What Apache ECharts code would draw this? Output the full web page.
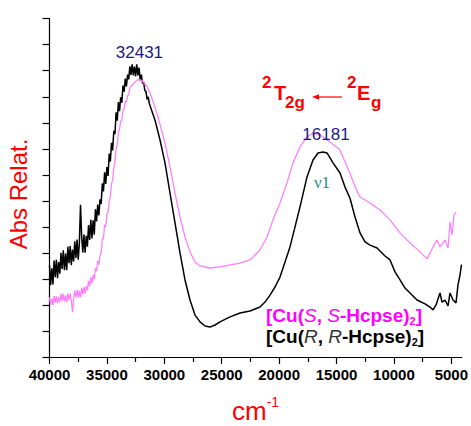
<!DOCTYPE html>
<html><head><meta charset="utf-8">
<script src="https://cdn.jsdelivr.net/npm/echarts@6/dist/echarts.min.js"></script>
<style>html,body{margin:0;padding:0;background:#fff}#c{width:471px;height:426px}</style>
</head><body><div id="c"></div>
<script>
// ---- data ----
const xTicks = [40000, 35000, 30000, 25000, 20000, 15000, 10000, 5000];
const xMinorTicks = [37500, 32500, 27500, 22500, 17500, 12500, 7500];

// [Cu(R,R-Hcpse)2]  (black)
const rrWavenumber = [
  40000,39900,39800,39700,39600,39500,39400,39300,39200,39100,39000,38900,38800,38700,38600,38500,38400,38300,38200,38100,
  38000,37900,37800,37700,37600,37500,37400,37300,37200,37100,37000,36900,36800,36700,36600,36500,36400,36300,36200,36100,
  36000,35900,35800,35700,35600,35500,35400,35300,35200,35100,35000,34900,34800,34700,34600,34500,34400,34300,34200,34100,
  34000,33900,33800,33700,33600,33500,33400,33300,33200,33100,33000,32900,32800,32700,32600,32500,32400,32300,32200,32100,
  32000,31900,31800,31700,31600,31500,31400,31300,
  30811,30375,29940,29504,29069,28633,28198,27762,27327,26891,26455,26020,25585,25150,24279,23407,22537,21666,21230,20795,20359,19924,
  19488,19053,18617,18182,17572,17050,16614,16179,15830,15308,14698,14263,13827,13392,12956,12521,12085,11475,10779,10343,9908,9472,
  9037,8601,7991,7295,6860,6598,6337,5989,5815,5553,5292,5118,4857,4596,4422,4248,4120
];
const rrAbs = [
  3.52,2.76,3.41,2.79,3.71,3.07,3.74,3.03,3.65,3.20,4.00,3.38,4.10,3.34,3.98,3.34,4.24,3.60,4.26,3.53,
  4.13,3.67,4.45,3.81,4.51,3.74,4.36,5.85,4.64,4.02,4.71,4.01,4.66,4.24,5.07,4.50,5.27,4.56,5.25,4.70,
  5.68,5.21,5.86,5.44,6.06,5.88,6.67,6.36,7.10,6.65,7.30,6.96,7.82,7.51,8.23,7.94,8.69,8.56,9.40,9.08,
  9.80,9.45,9.98,9.77,10.43,10.20,10.70,10.40,10.85,10.67,11.17,10.84,11.25,10.82,11.16,10.78,11.25,10.82,11.12,10.62,
  10.85,10.52,10.57,10.24,10.21,9.90,10.00,9.73,
  9.10,8.34,7.46,6.30,5.15,4.00,2.96,2.19,1.61,1.35,1.19,1.15,1.23,1.35,1.54,1.69,1.77,1.92,2.11,2.38,2.69,3.07,
  3.65,4.23,5.00,5.77,6.92,7.57,7.84,7.88,7.84,7.46,7.07,6.53,6.10,5.38,4.77,4.42,4.30,4.19,3.88,3.73,3.27,2.96,
  2.65,2.46,2.19,2.04,1.92,1.81,2.00,2.46,2.11,2.19,1.96,2.46,2.19,2.08,2.77,3.15,3.55
];

// [Cu(S,S-Hcpse)2]  (magenta)
const ssWavenumber = [
  40000,39900,39800,39700,39600,39500,39400,39300,39200,39100,39000,38900,38800,38700,38600,38500,38400,38300,38200,38100,
  38000,37900,37800,37700,37600,37500,37400,37300,37200,37100,37000,36900,36800,36700,36600,36500,36400,36300,36200,36100,
  36000,35900,35800,35700,35600,35500,35400,35300,35200,35100,35000,34900,34800,34700,34600,34500,34400,34300,34200,34100,
  34000,33900,33800,33700,33600,33500,33400,33300,33200,33100,33000,
  32800,32550,32300,32100,31900,31700,31450,31250,30811,
  30375,29940,29504,29069,28633,28198,27762,27327,26891,26020,25150,24279,23407,22537,21666,21056,20533,19924,19314,18792,18182,17572,
  17050,16440,15569,14698,13827,13392,12956,12085,11214,10343,9472,8601,7730,7121,6598,6250,5989,5553,5292,5118,4944,4770,4596
];
const ssAbs = [
  2.29,1.99,2.24,1.99,2.35,2.09,2.35,2.06,2.30,2.11,2.43,2.17,2.44,2.13,2.36,2.10,2.45,2.19,2.45,2.16,
  1.72,2.22,2.55,2.29,2.58,2.28,2.54,2.29,2.66,2.41,2.69,2.44,2.72,2.57,2.93,2.71,3.07,2.84,3.16,2.98,
  3.41,3.29,3.69,3.54,3.91,3.97,4.55,4.54,5.08,5.01,5.49,5.55,5.99,6.17,6.65,6.81,7.27,7.50,7.99,8.15,
  8.62,8.76,9.07,9.11,9.48,9.52,9.84,9.79,10.05,10.06,10.36,
  10.45,10.57,10.66,10.65,10.60,10.50,10.35,10.15,9.60,
  8.95,8.22,7.30,6.30,5.38,4.61,4.04,3.65,3.50,3.42,3.46,3.54,3.61,3.73,4.11,4.61,5.27,5.92,6.69,7.46,8.07,8.46,
  8.61,8.53,8.26,7.95,7.05,6.55,6.15,5.92,5.65,5.27,4.77,4.38,4.04,3.77,4.23,4.50,4.23,4.50,4.19,5.19,4.69,5.46,5.57
];

const peakWavenumbers = [32431, 16181];
const peakHeights = [11.03, 7.88];   // R,R curve maxima
const bandLabel = 'ν1';

// ---- chart ----
const FAM = '"Liberation Sans", Arial, sans-serif';
const chart = echarts.init(document.getElementById('c'), null, {renderer: 'svg'});
const pairs = (xs, ys) => xs.map((x, i) => [x, ys[i]]);

const axisCommon = {
  type: 'value', inverse: true, min: 4100, max: 40000,
  splitLine: {show: false}
};

chart.setOption({
  animation: false,
  backgroundColor: '#fff',
  grid: {left: 49.5, right: 9.3, top: 18.7, bottom: 69, containLabel: false, outerBoundsMode: 'none'},
  xAxis: [
    Object.assign({}, axisCommon, {
      axisLine: {show: true, lineStyle: {color: '#000', width: 1.2}},
      axisTick: {show: true, inside: false, length: 7, customValues: xTicks, lineStyle: {color: '#000', width: 1.2}},
      axisLabel: {show: true, customValues: xTicks, margin: 10, color: '#000', fontSize: 15, fontWeight: 'bold', fontFamily: FAM,
                  formatter: v => String(v)}
    }),
    Object.assign({}, axisCommon, {
      position: 'bottom',
      axisLine: {show: false},
      axisTick: {show: true, inside: false, length: 5, customValues: xMinorTicks, lineStyle: {color: '#000', width: 1.2}},
      axisLabel: {show: false}
    })
  ],
  yAxis: {
    type: 'value', min: 0, max: 13, interval: 1,
    axisLine: {show: true, lineStyle: {color: '#000', width: 1.2}},
    axisTick: {show: true, inside: false, length: 7, lineStyle: {color: '#000', width: 1.2}},
    axisLabel: {show: false},
    splitLine: {show: false}
  },
  series: [
    {name: '[Cu(R,R-Hcpse)2]', type: 'line', xAxisIndex: 0, data: pairs(rrWavenumber, rrAbs),
     showSymbol: false, smooth: false, lineStyle: {color: '#000', width: 1.5}, itemStyle: {color: '#000'}, z: 2},
    {name: '[Cu(S,S-Hcpse)2]', type: 'line', xAxisIndex: 0, data: pairs(ssWavenumber, ssAbs),
     showSymbol: false, smooth: false, lineStyle: {color: '#ff80ff', width: 1.3}, itemStyle: {color: '#ff80ff'}, z: 3}
  ]
});

// ---- annotations ----
const ctx = document.createElement('canvas').getContext('2d');
function fontStr(s) { return `${s.style || 'normal'} ${s.weight || 'normal'} ${s.size}px ${s.family || FAM}`; }
function run(x, baseline, segs, color) {
  const out = [];
  let cx = x;
  segs.forEach(s => {
    ctx.font = fontStr(s);
    const w = ctx.measureText(s.text).width;
    out.push({
      type: 'text', x: cx, y: baseline + (s.dy || 0) - 0.35 * s.size, z: 100,
      style: {text: s.text, fill: s.color || color, fontSize: s.size, fontWeight: s.weight || 'normal',
              fontStyle: s.style || 'normal', fontFamily: s.family || FAM, align: 'left', verticalAlign: 'middle'}
    });
    cx += w + (s.gap || 0);
  });
  return out;
}

const g = [];
// peak labels
peakWavenumbers.forEach((wn, i) => {
  const p = chart.convertToPixel({gridIndex: 0}, [wn, peakHeights[i]]);
  g.push({type: 'text', x: p[0] + 3, y: p[1] - 17, z: 100,
    style: {text: String(wn), fill: '#1a1a7e', fontSize: 17, fontFamily: FAM, align: 'center', verticalAlign: 'middle'}});
});
// nu1
const pn = chart.convertToPixel({gridIndex: 0}, [peakWavenumbers[1], peakHeights[1]]);
g.push({type: 'text', x: pn[0] - 1, y: pn[1] + 31, z: 100,
  style: {text: bandLabel, fill: '#1f8c8c', fontSize: 17, fontFamily: '"Liberation Serif", "DejaVu Serif", serif', align: 'center', verticalAlign: 'middle'}});

// y axis title
g.push({type: 'text', x: 18, y: 194, rotation: Math.PI / 2, z: 100,
  style: {text: 'Abs Relat.', fill: '#ff0000', fontSize: 24, fontFamily: FAM, align: 'center', verticalAlign: 'middle'}});
// x axis title cm^-1
g.push(...run(232, 420, [
  {text: 'cm', size: 26},
  {text: '-1', size: 14, dy: -13}
], '#ff0000'));

// transition 2T2g <- 2Eg
const RED = '#ff0000';
g.push(...run(262, 88, [{text: '2', size: 17, weight: 'bold'}], RED));
g.push(...run(274, 100, [{text: 'T', size: 20, weight: 'bold'}], RED));
g.push(...run(285, 108, [{text: '2g', size: 17, weight: 'bold'}], RED));
g.push(...run(347, 88, [{text: '2', size: 17, weight: 'bold'}], RED));
g.push(...run(357, 100, [{text: 'E', size: 20, weight: 'bold'}], RED));
g.push(...run(371, 108, [{text: 'g', size: 17, weight: 'bold'}], RED));
g.push({type: 'line', z: 100, shape: {x1: 342, y1: 97, x2: 318, y2: 97}, style: {stroke: RED, lineWidth: 1.2}});
g.push({type: 'polygon', z: 100, shape: {points: [[312, 97], [319, 94.3], [319, 99.7]]}, style: {fill: RED}});

// legend texts
const MAG = '#ff00ff';
g.push(...run(266, 322, [
  {text: '[Cu(', size: 19, weight: 'bold'},
  {text: 'S', size: 19, style: 'italic'},
  {text: ', ', size: 19, weight: 'bold'},
  {text: 'S', size: 19, style: 'italic'},
  {text: '-Hcpse)', size: 19, weight: 'bold'},
  {text: '2', size: 11, weight: 'bold', dy: 3},
  {text: ']', size: 19, weight: 'bold'}
], MAG));
g.push(...run(266, 343, [
  {text: '[Cu(', size: 19, weight: 'bold'},
  {text: 'R', size: 19, style: 'italic', color: '#333'},
  {text: ', ', size: 19, weight: 'bold'},
  {text: 'R', size: 19, style: 'italic', color: '#333'},
  {text: '-Hcpse)', size: 19, weight: 'bold'},
  {text: '2', size: 11, weight: 'bold', dy: 3},
  {text: ']', size: 19, weight: 'bold'}
], '#000'));

chart.setOption({graphic: g});
</script>
</body></html>
